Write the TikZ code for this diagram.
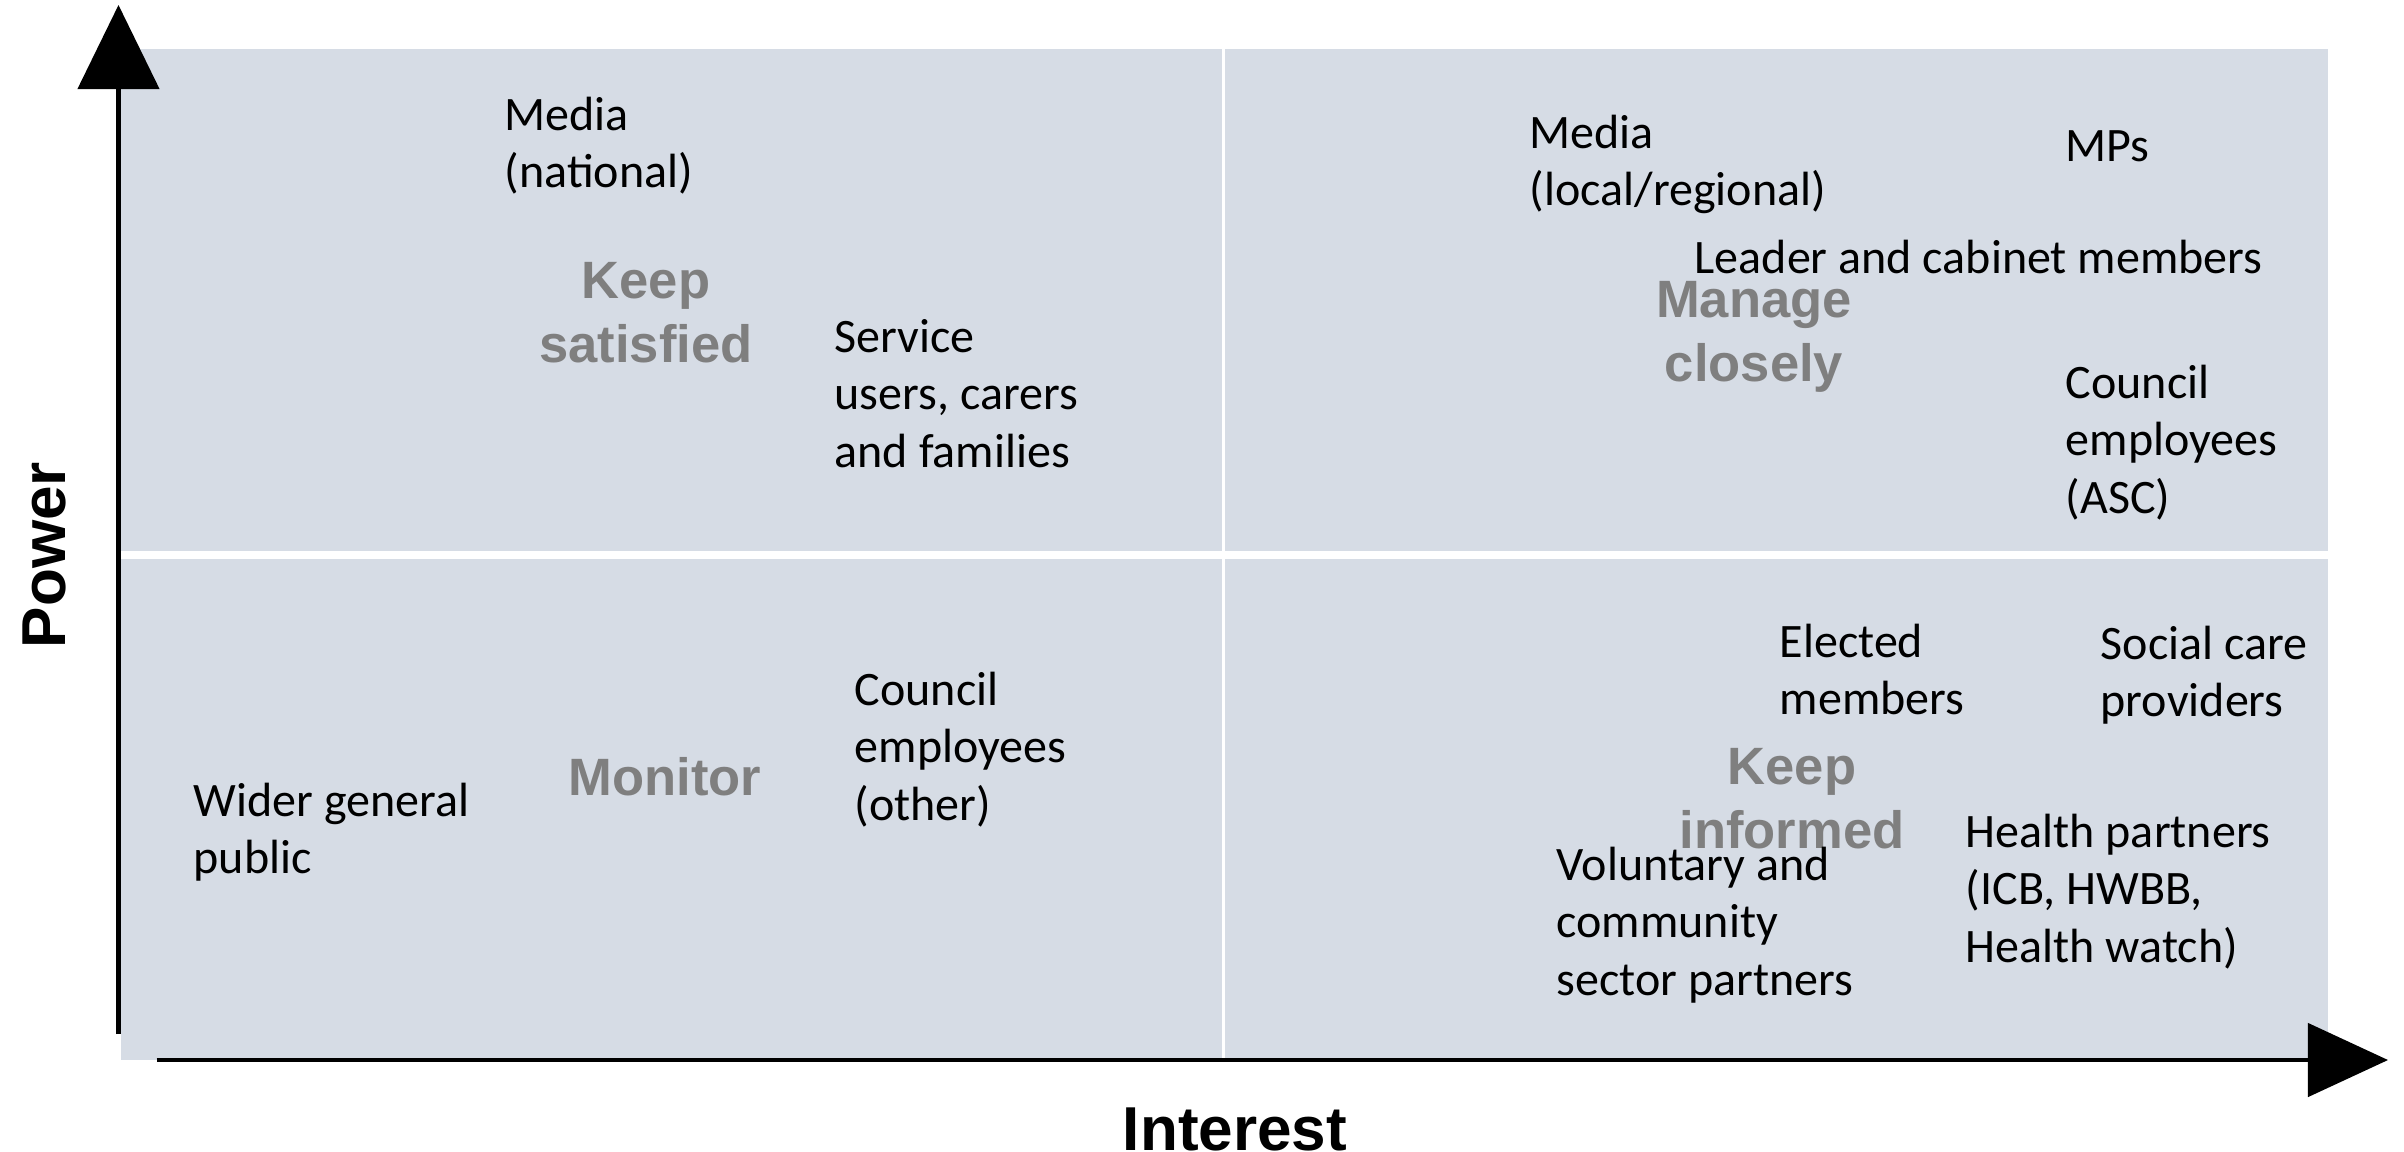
\documentclass[tikz,border=0pt]{standalone}
\usepackage{fontspec}
\usetikzlibrary{arrows.meta}
\newfontfamily\bodyfont{Carlito}
\newfontfamily\labelfont{Liberation Sans}[BoldFont={Liberation Sans Bold}]
\definecolor{quadfill}{HTML}{D6DCE5}
\definecolor{labelgray}{HTML}{7F7F7F}
\newcommand\leftlines[1]{\vtop{\halign{##\hfil\cr#1\crcr}}}
\newcommand\centerlines[1]{\vtop{\halign{\hfil##\hfil\cr#1\crcr}}}
\tikzset{
  bodytext/.style={inner sep=0pt, anchor=base west, text=black,
    font={\bodyfont\fontsize{13.66pt}{16.36pt}\selectfont}},
  quadlabel/.style={inner sep=0pt, anchor=base, text=labelgray,
    font={\labelfont\bfseries\fontsize{14.94pt}{18.21pt}\selectfont}},
  axislabel/.style={inner sep=0pt, anchor=base, text=black,
    font={\labelfont\bfseries\fontsize{17.64pt}{21pt}\selectfont}},
  axisline/.style={line width=1.28pt, draw=black},
}
\begin{document}
\begin{tikzpicture}[x=0.01cm, y=-0.01cm]
\useasboundingbox (0,0) rectangle (2404,1151);
% quadrant background
\fill[quadfill] (121,49) rectangle (2328,1060);
\draw[white, line width=0.85pt] (1223.5,49) -- (1223.5,1060);
\draw[white, line width=2.2pt] (121,555) -- (2328,555);
% axes
\coordinate (ybot) at (118.5,1034);
\coordinate (ytop) at (118.5,5);
\coordinate (xleft) at (156.7,1060);
\coordinate (xright) at (2388,1060);
\draw[axisline, -{Triangle[length=0.84cm, width=0.81cm]}] (ybot) -- (ytop);
\draw[axisline, -{Triangle[length=0.80cm, width=0.73cm]}] (xleft) -- (xright);
% axis labels
\node[axislabel, rotate=90] (power) at (65,555) {Power};
\node[axislabel] (interest) at (1235,1150) {Interest};
% quadrant labels
\node[quadlabel] (keepsat) at (646,298) {\centerlines{Keep\cr satisfied}};
\node[quadlabel] (manage) at (1754,317) {\centerlines{Manage\cr closely}};
\node[quadlabel] (monitor) at (665,795) {\centerlines{Monitor}};
\node[quadlabel] (keepinf) at (1792,784) {\centerlines{Keep\cr informed}};
% stakeholders
\node[bodytext] (medianat) at (504,130) {\leftlines{Media\cr(national)}};
\node[bodytext] (service) at (834,352) {\leftlines{Service\cr users, carers\cr and families}};
\node[bodytext] (medialoc) at (1529,148) {\leftlines{Media\cr(local/regional)}};
\node[bodytext] (mps) at (2065,161) {\leftlines{MPs}};
\node[bodytext] (leader) at (1694,273) {\leftlines{Leader and cabinet members}};
\node[bodytext] (councilasc) at (2065,398) {\leftlines{Council\cr employees\cr (ASC)}};
\node[bodytext] (wider) at (193,816) {\leftlines{Wider general\cr public}};
\node[bodytext] (councilother) at (854,705) {\leftlines{Council\cr employees\cr (other)}};
\node[bodytext] (elected) at (1779,657) {\leftlines{Elected\cr members}};
\node[bodytext] (social) at (2100,659) {\leftlines{Social care\cr providers}};
\node[bodytext] (voluntary) at (1556,880) {\leftlines{Voluntary and\cr community\cr sector partners}};
\node[bodytext] (health) at (1965,847) {\leftlines{Health partners\cr (ICB, HWBB,\cr Health watch)}};
\end{tikzpicture}
\end{document}
